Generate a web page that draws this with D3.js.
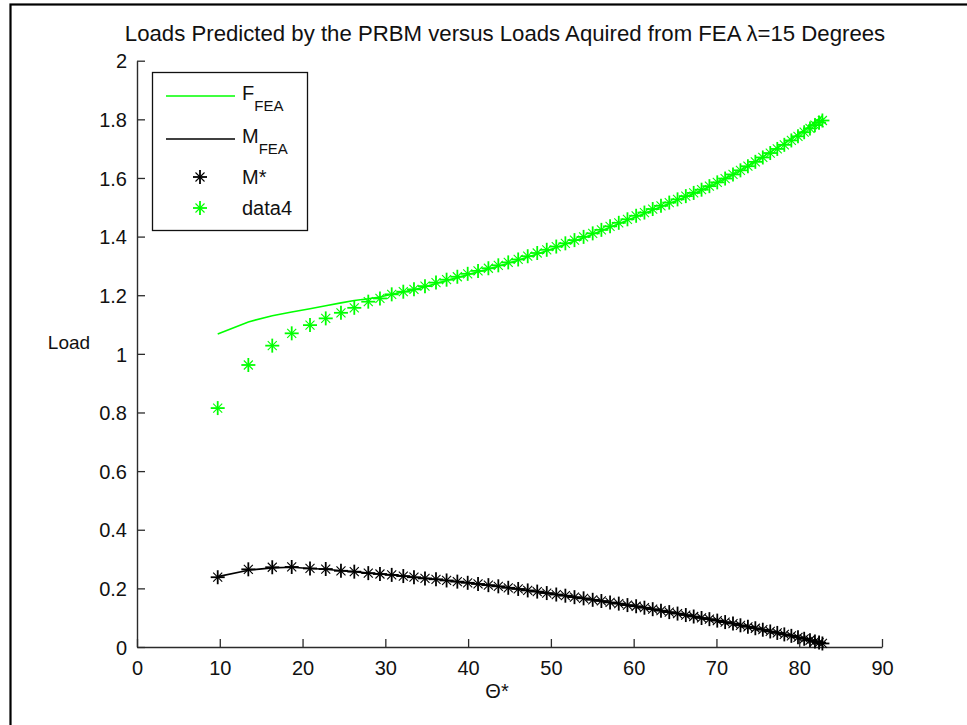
<!DOCTYPE html>
<html>
<head>
<meta charset="utf-8">
<script src="https://cdn.jsdelivr.net/npm/d3@7/dist/d3.min.js"></script>
<style>
  html, body { margin: 0; padding: 0; background: #fff; }
  svg { display: block; }
  text { font-family: "Liberation Sans", Arial, Helvetica, sans-serif; fill: #111; }
</style>
</head>
<body>
<svg id="chart" width="967" height="725"></svg>
<script>
// Deflection angle samples (degrees), shared by every series
const theta = [
  9.75, 13.45, 16.34, 18.69, 20.9, 22.8, 24.64, 26.25, 27.94, 29.35,
  30.77, 32.17, 33.46, 34.79, 36.12, 37.4, 38.7, 39.95, 41.2, 42.45,
  43.65, 44.85, 46.05, 47.2, 48.35, 49.5, 50.65, 51.75, 52.85, 53.95,
  55.05, 56.1, 57.15, 58.2, 59.25, 60.3, 61.3, 62.3, 63.3, 64.3,
  65.3, 66.3, 67.25, 68.2, 69.15, 70.1, 71.05, 72.0, 72.9, 73.8,
  74.7, 75.6, 76.5, 77.35, 78.2, 79.05, 79.85, 80.6, 81.3, 81.9,
  82.4, 82.8
];

// Force from FEA (solid green line)
const fFEA = [
  1.068, 1.109, 1.130, 1.143, 1.154, 1.164, 1.174, 1.182, 1.188, 1.194,
  1.203, 1.211, 1.219, 1.229, 1.240, 1.250, 1.260, 1.270, 1.280, 1.289,
  1.299, 1.309, 1.319, 1.330, 1.341, 1.352, 1.363, 1.374, 1.385, 1.396,
  1.408, 1.420, 1.432, 1.444, 1.456, 1.468, 1.479, 1.491, 1.502, 1.513,
  1.524, 1.536, 1.547, 1.558, 1.571, 1.584, 1.598, 1.612, 1.626, 1.641,
  1.656, 1.672, 1.688, 1.703, 1.718, 1.734, 1.749, 1.764, 1.778, 1.791,
  1.802, 1.812
];

// Moment from FEA (solid black line)
const mFEA = [
  0.240, 0.262, 0.270, 0.272, 0.268, 0.265, 0.260, 0.257, 0.252, 0.249,
  0.246, 0.242, 0.238, 0.234, 0.231, 0.227, 0.223, 0.219, 0.215, 0.211,
  0.207, 0.202, 0.198, 0.193, 0.189, 0.184, 0.179, 0.175, 0.170, 0.166,
  0.161, 0.157, 0.152, 0.148, 0.143, 0.139, 0.134, 0.129, 0.124, 0.119,
  0.114, 0.109, 0.104, 0.099, 0.095, 0.090, 0.085, 0.080, 0.074, 0.069,
  0.064, 0.059, 0.053, 0.048, 0.043, 0.038, 0.033, 0.028, 0.023, 0.019,
  0.015, 0.012
];

// Moment predicted by the PRBM (black stars)
const mStar = [
  0.238, 0.265, 0.272, 0.273, 0.268, 0.266, 0.260, 0.257, 0.252, 0.249,
  0.246, 0.242, 0.238, 0.234, 0.231, 0.227, 0.223, 0.219, 0.215, 0.211,
  0.207, 0.202, 0.198, 0.193, 0.189, 0.184, 0.179, 0.175, 0.170, 0.166,
  0.161, 0.157, 0.152, 0.148, 0.143, 0.139, 0.134, 0.129, 0.124, 0.119,
  0.114, 0.109, 0.104, 0.099, 0.095, 0.090, 0.085, 0.080, 0.074, 0.069,
  0.064, 0.059, 0.053, 0.048, 0.043, 0.038, 0.033, 0.028, 0.023, 0.019,
  0.015, 0.012
];

// Force predicted by the PRBM (green stars)
const data4 = [
  0.815, 0.962, 1.028, 1.070, 1.098, 1.121, 1.140, 1.157, 1.178, 1.189,
  1.203, 1.212, 1.220, 1.231, 1.243, 1.253, 1.263, 1.273, 1.283, 1.292,
  1.302, 1.312, 1.322, 1.333, 1.344, 1.355, 1.366, 1.377, 1.388, 1.399,
  1.411, 1.423, 1.435, 1.447, 1.459, 1.471, 1.482, 1.494, 1.505, 1.516,
  1.527, 1.538, 1.549, 1.560, 1.572, 1.585, 1.598, 1.612, 1.626, 1.640,
  1.655, 1.670, 1.685, 1.699, 1.713, 1.728, 1.742, 1.756, 1.769, 1.780,
  1.789, 1.796
];

const xTicks = [0, 10, 20, 30, 40, 50, 60, 70, 80, 90];
const yTicks = [0, 0.2, 0.4, 0.6, 0.8, 1, 1.2, 1.4, 1.6, 1.8, 2];

const titleText = "Loads Predicted by the PRBM versus Loads Aquired from FEA \u03BB=15 Degrees";

const GREEN = "#00ff00";
const BLACK = "#000000";
const AXIS = "#2b2b2b";

const svg = d3.select("#chart");

// figure frame
svg.append("rect")
  .attr("x", 10.5).attr("y", 4.5)
  .attr("width", 1000).attr("height", 1000)
  .attr("fill", "none").attr("stroke", "#000").attr("stroke-width", 2.2);

const plotLeft = 137, plotRight = 882, plotTop = 60.7, plotBottom = 647;

const x = d3.scaleLinear().domain([0, 90]).range([plotLeft, plotRight]);
const y = d3.scaleLinear().domain([0, 2]).range([plotBottom, plotTop]);

// axes, ticks pointing inward
const fmt = d => String(+d.toFixed(1));
const xAxis = d3.axisBottom(x).tickValues(xTicks).tickFormat(fmt)
  .tickSizeInner(-8).tickSizeOuter(0).tickPadding(12);
const yAxis = d3.axisLeft(y).tickValues(yTicks).tickFormat(fmt)
  .tickSizeInner(-8).tickSizeOuter(0).tickPadding(10);

const gx = svg.append("g").attr("transform", `translate(0,${plotBottom})`).call(xAxis);
const gy = svg.append("g").attr("transform", `translate(${plotLeft},0)`).call(yAxis);
[gx, gy].forEach(g => {
  g.select(".domain").attr("stroke", AXIS).attr("stroke-width", 1.4);
  g.selectAll(".tick line").attr("stroke", AXIS).attr("stroke-width", 1.3);
  g.selectAll(".tick text")
    .attr("font-family", "Liberation Sans, Arial, sans-serif")
    .attr("font-size", 20).attr("fill", "#111");
});
gx.selectAll(".tick text").attr("dy", "0.78em");
gy.selectAll(".tick text").attr("dy", "0.36em");

// title and axis labels
svg.append("text")
  .attr("x", 505).attr("y", 41)
  .attr("text-anchor", "middle")
  .attr("font-size", 22.2)
  .text(titleText);

svg.append("text")
  .attr("x", 69).attr("y", 349)
  .attr("text-anchor", "middle")
  .attr("font-size", 19)
  .text("Load");

svg.append("text")
  .attr("x", 497).attr("y", 698)
  .attr("text-anchor", "middle")
  .attr("font-size", 20)
  .text("\u0398*");

// series
const line = d3.line().x(d => x(d[0])).y(d => y(d[1]));
const plot = svg.append("g");

plot.append("path")
  .datum(d3.zip(theta, fFEA))
  .attr("d", line).attr("fill", "none")
  .attr("stroke", GREEN).attr("stroke-width", 1.6);

plot.append("path")
  .datum(d3.zip(theta, mFEA))
  .attr("d", line).attr("fill", "none")
  .attr("stroke", BLACK).attr("stroke-width", 1.6);

// asterisk marker: a plus with a smaller diagonal cross
function star(g, color) {
  const a = 7, b = 4.5;
  g.append("line").attr("x1", -a).attr("x2", a).attr("y1", 0).attr("y2", 0)
    .attr("stroke", color).attr("stroke-width", 1.8);
  g.append("line").attr("x1", 0).attr("x2", 0).attr("y1", -a).attr("y2", a)
    .attr("stroke", color).attr("stroke-width", 1.8);
  g.append("line").attr("x1", -b).attr("x2", b).attr("y1", -b).attr("y2", b)
    .attr("stroke", color).attr("stroke-width", 1.1);
  g.append("line").attr("x1", -b).attr("x2", b).attr("y1", b).attr("y2", -b)
    .attr("stroke", color).attr("stroke-width", 1.1);
}

plot.append("g").selectAll("g")
  .data(d3.zip(theta, mStar)).join("g")
  .attr("transform", d => `translate(${x(d[0])},${y(d[1])})`)
  .each(function () { star(d3.select(this), BLACK); });

plot.append("g").selectAll("g")
  .data(d3.zip(theta, data4)).join("g")
  .attr("transform", d => `translate(${x(d[0])},${y(d[1])})`)
  .each(function () { star(d3.select(this), GREEN); });

// legend
const leg = svg.append("g");
leg.append("rect")
  .attr("x", 152.5).attr("y", 72.5).attr("width", 155).attr("height", 158)
  .attr("fill", "#fff").attr("stroke", "#111").attr("stroke-width", 1.3);

const entries = [
  { kind: "line", color: GREEN, main: "F", sub: "FEA", y: 96 },
  { kind: "line", color: BLACK, main: "M", sub: "FEA", y: 139 },
  { kind: "star", color: BLACK, main: "M*", sub: null, y: 177 },
  { kind: "star", color: GREEN, main: "data4", sub: null, y: 208 }
];
entries.forEach(e => {
  if (e.kind === "line") {
    leg.append("line").attr("x1", 166).attr("x2", 235)
      .attr("y1", e.y).attr("y2", e.y)
      .attr("stroke", e.color).attr("stroke-width", 1.6);
  } else {
    star(leg.append("g").attr("transform", `translate(200,${e.y})`), e.color);
  }
  const t = leg.append("text").attr("x", 242)
    .attr("y", e.sub ? e.y + 4 : e.y + 7).attr("font-size", 20);
  t.append("tspan").text(e.main);
  if (e.sub) t.append("tspan").attr("dy", 11).attr("font-size", 15).text(e.sub);
});
</script>
</body>
</html>
